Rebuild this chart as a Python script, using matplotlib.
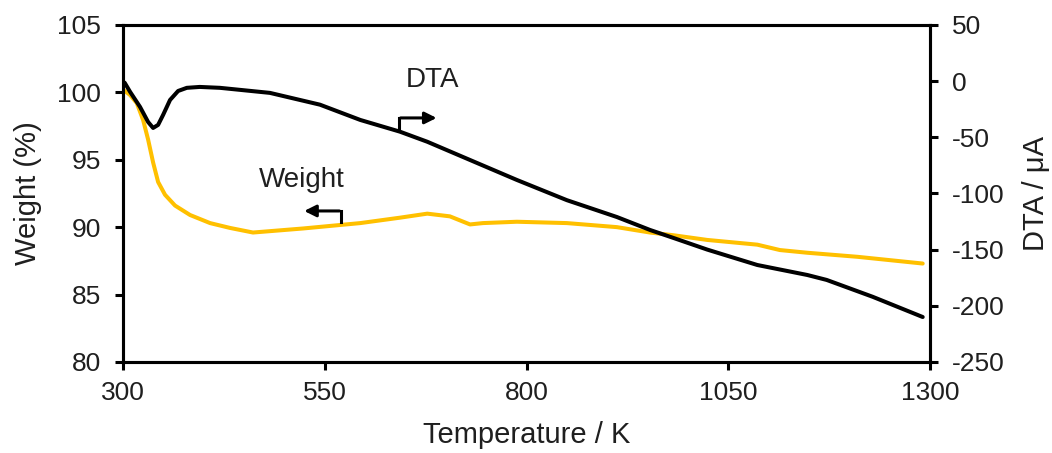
import numpy as np
import matplotlib.pyplot as plt

plt.rcParams['font.family'] = ['Liberation Sans', 'DejaVu Sans']
plt.rcParams['axes.unicode_minus'] = False

# Weight curve (left axis)
temp_w = [300, 308.7, 317, 324.8, 331, 337.2, 343.4, 352, 364.4, 383, 407.8,
          432.6, 461, 523, 594, 643, 677, 705, 730, 746, 788, 850, 912, 953,
          982, 1024, 1086, 1114, 1148, 1210, 1291]
weight = [100.2, 99.8, 99.2, 97.95, 96.5, 94.8, 93.35, 92.4, 91.6, 90.9, 90.3,
          89.94, 89.6, 89.9, 90.3, 90.7, 91.0, 90.8, 90.2, 90.3, 90.4, 90.3,
          90.0, 89.6, 89.4, 89.05, 88.7, 88.3, 88.1, 87.8, 87.3]

# DTA curve (right axis)
temp_d = [300, 302, 308.7, 321, 331, 337.2, 343.4, 349.6, 358.2, 368.2, 379,
          395, 420, 482, 544, 594, 643, 677, 739, 788, 850, 912, 953, 982,
          1024, 1086, 1148, 1172, 1229, 1291]
dta = [-0.7, -1.5, -9.6, -23, -36.4, -41.7, -39, -30.1, -16.8, -8.8, -6,
       -5.2, -6, -10.5, -21, -34.6, -45, -54, -73, -88, -106, -121, -132.5,
       -139.6, -150, -163.7, -172.6, -177, -192, -210]

x_ticks = [300, 550, 800, 1050, 1300]
left_ticks = [80, 85, 90, 95, 100, 105]
right_ticks = [-250, -200, -150, -100, -50, 0, 50]

fig = plt.figure(figsize=(10.52, 4.53), dpi=100)
ax = fig.add_axes([0.117, 0.201, 0.767, 0.744])
ax2 = ax.twinx()

ax.plot(temp_w, weight, color="#FFC000", lw=2.9, solid_joinstyle="round",
        solid_capstyle="round")
ax2.plot(temp_d, dta, color="black", lw=2.9, solid_joinstyle="round",
         solid_capstyle="round")

ax.set_xlim(300, 1300)
ax.set_ylim(80, 105)
ax2.set_ylim(-250, 50)
ax.set_xticks(x_ticks)
ax.set_yticks(left_ticks)
ax2.set_yticks(right_ticks)

txt = "#1f1f1f"
for a in (ax, ax2):
    for s in a.spines.values():
        s.set_linewidth(2.2)
    a.tick_params(direction="out", length=6, width=2.2, labelsize=19,
                  labelcolor=txt)
ax.tick_params(axis="x", pad=8)
ax.tick_params(axis="y", pad=10)
ax2.tick_params(axis="y", pad=10)

ax.set_xlabel("Temperature / K", fontsize=21, labelpad=11, color=txt)
ax.set_ylabel("Weight (%)", fontsize=21, labelpad=11, color=txt)
ax2.set_ylabel("DTA / μA", fontsize=21, labelpad=12, color=txt)

# annotations with elbow arrows
ax.text(683, 100.9, "DTA", fontsize=20, ha="center", va="center", color=txt)
ax.plot([642, 642], [97.2, 98.1], color="black", lw=2.2)
ax.annotate("", xy=(692, 98.1), xytext=(640.5, 98.1),
            arrowprops=dict(arrowstyle="-|>,head_length=0.7,head_width=0.35",
                            color="black", lw=2.2))

ax.text(522, 93.5, "Weight", fontsize=20, ha="center", va="center", color=txt)
ax.plot([570, 570], [90.4, 91.2], color="black", lw=2.2)
ax.annotate("", xy=(521, 91.2), xytext=(571.5, 91.2),
            arrowprops=dict(arrowstyle="-|>,head_length=0.7,head_width=0.35",
                            color="black", lw=2.2))

fig.savefig("out.png", dpi=100)
